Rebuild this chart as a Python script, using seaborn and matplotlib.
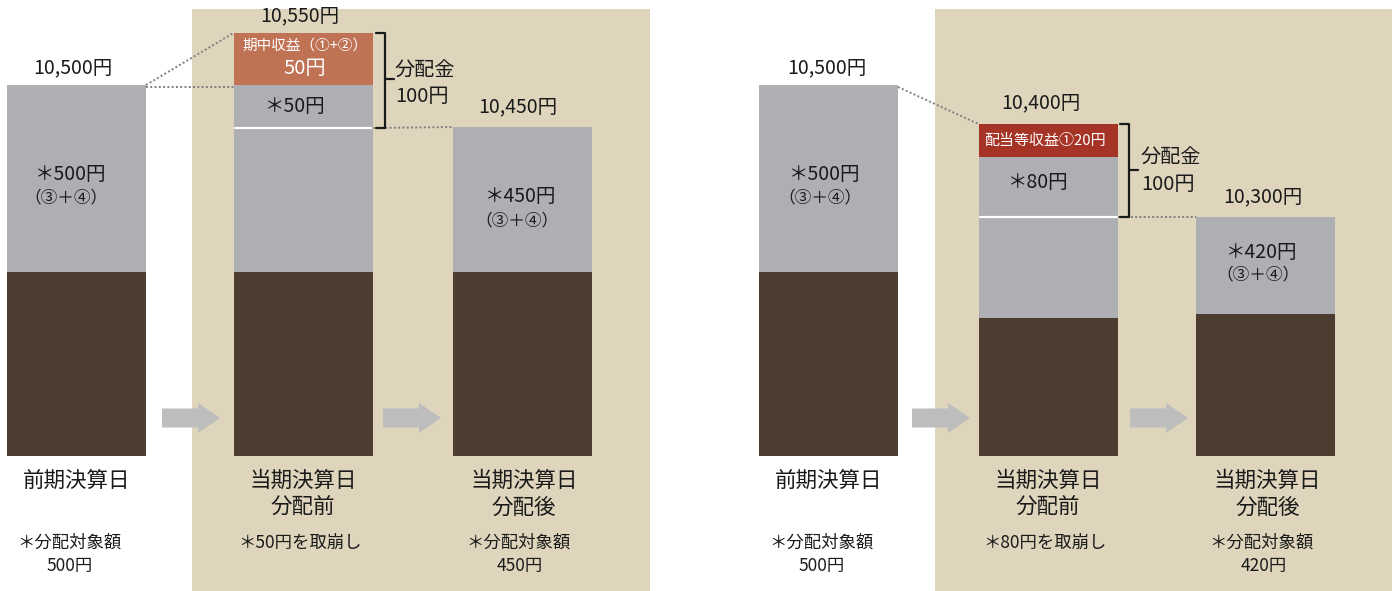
import matplotlib
matplotlib.use("Agg")
import matplotlib.pyplot as plt
from matplotlib.patches import Rectangle
import seaborn as sns

# --- data (schematic bar segment heights) ---
bar_labels = ["前期決算日", "当期決算日\n分配前", "当期決算日\n分配後"]

left_base = [184, 184, 184]        # brown part
left_kept = [187, 144, 145]        # gray part that stays
left_used = [0, 43, 0]             # gray part paid out
left_income = [0, 52, 0]           # income part paid out

right_base = [184, 138, 142]
right_kept = [187, 101, 97]
right_used = [0, 60, 0]
right_income = [0, 33, 0]

left_totals = ["10,500円", "10,550円", "10,450円"]
right_totals = ["10,500円", "10,400円", "10,300円"]
left_gray_text = ["＊500円", "＊50円", "＊450円"]
right_gray_text = ["＊500円", "＊80円", "＊420円"]
left_income_text = ["期中収益（①+②）", "50円"]
right_income_text = "配当等収益①20円"
dist_text = ["分配金", "100円"]
left_notes = [["＊分配対象額", "500円"], ["＊50円を取崩し"], ["＊分配対象額", "450円"]]
right_notes = [["＊分配対象額", "500円"], ["＊80円を取崩し"], ["＊分配対象額", "420円"]]

BROWN = "#4d3c30"
GRAY = "#aeafb3"
BEIGE = "#dfd5bd"
ORANGE = "#c07254"
RED = "#a53426"
ARROW = "#bdbdbd"
DOT = "#7f7f7f"
TXT = "#1a1a1a"

sns.set_theme(style="white")
plt.rcParams["font.family"] = ["Noto Sans CJK JP", "DejaVu Sans"]

W, H = 1399, 591
BASE = 456  # pixel row of bar bottoms


def Y(p):
    return BASE - p


fig = plt.figure(figsize=(W / 100, H / 100), dpi=100)
ax = fig.add_axes([0, 0, 1, 1])
ax.set_xlim(0, W)
ax.set_ylim(BASE - H, BASE)
ax.axis("off")

# beige background boxes
for x0, x1 in [(192, 650), (935, 1392)]:
    ax.add_patch(Rectangle((x0, Y(H)), x1 - x0, H - 9, color=BEIGE, lw=0, zorder=0))


def draw_panel(xs, base, kept, used, income, inc_color):
    width = 139
    b = list(base)
    k = [b[i] + kept[i] for i in range(3)]
    u = [k[i] + used[i] for i in range(3)]
    ax.bar(xs, base, width=width, bottom=0, color=BROWN, lw=0, zorder=2)
    ax.bar(xs, kept, width=width, bottom=b, color=GRAY, lw=0, zorder=2)
    ax.bar(xs, used, width=width, bottom=k, color=GRAY, lw=0, zorder=2)
    ax.bar(xs, income, width=width, bottom=u, color=inc_color, lw=0, zorder=2)
    tops = [u[i] + income[i] for i in range(3)]
    return k, u, tops, width


def arrow(x0, length=58):
    ax.arrow(x0, Y(418), length, 0, width=19, head_width=30, head_length=22,
             length_includes_head=True, color=ARROW, lw=0, zorder=2)


def bracket(x, top, bottom, mid):
    ax.plot([x - 9, x, x, x - 9], [top, top, bottom, bottom], color=TXT, lw=1.6, zorder=4)
    ax.plot([x, x + 9], [mid, mid], color=TXT, lw=1.6, zorder=4)


def t(x, p, s, size=14, color=TXT, ha="center"):
    ax.text(x, Y(p), s, fontsize=size, color=color, ha=ha, va="center")


# ---------------- left panel ----------------
lx = [76.5, 303, 522]
k, u, tops, w = draw_panel(lx, left_base, left_kept, left_used, left_income, ORANGE)
# white line between kept / used
ax.plot([lx[1] - w / 2 + 1, lx[1] + w / 2 - 1], [k[1], k[1]], color="white", lw=1.6, zorder=3)
# dotted guides
ax.plot([lx[0] + w / 2, lx[1] - w / 2], [tops[0], tops[1]], color=DOT, ls=(0, (1, 1.2)), lw=1.4, zorder=3)
ax.plot([lx[0] + w / 2, lx[1] - w / 2], [tops[0] - 2, tops[0] - 2], color=DOT, ls=(0, (1, 1.2)), lw=1.4, zorder=3)
ax.plot([lx[1] + w / 2, lx[2] - w / 2], [k[1], tops[2]], color=DOT, ls=(0, (1, 1.2)), lw=1.4, zorder=3)
bracket(385, tops[1], k[1], Y(79))
t(395, 70, dist_text[0], 14.5, ha="left")
t(395, 97, dist_text[1], 14.5, ha="left")

t(73, 68, left_totals[0])
t(300, 16, left_totals[1])
t(518, 107, left_totals[2])
t(71, 174, left_gray_text[0])
t(66, 198, "（③＋④）", 12)
t(295, 107, left_gray_text[1])
t(521, 196, left_gray_text[2])
t(517, 221, "（③＋④）", 12)
t(305, 46, left_income_text[0], 10.5, "white")
t(305, 69, left_income_text[1], 14.5, "white")

arrow(162)
arrow(383)

# ---------------- right panel ----------------
rx = [828.5, 1048, 1265.5]
k2, u2, tops2, w = draw_panel(rx, right_base, right_kept, right_used, right_income, RED)
ax.plot([rx[1] - w / 2 + 1, rx[1] + w / 2 - 1], [k2[1], k2[1]], color="white", lw=1.6, zorder=3)
ax.plot([rx[0] + w / 2, rx[1] - w / 2], [tops2[0] - 2, tops2[1]], color=DOT, ls=(0, (1, 1.2)), lw=1.4, zorder=3)
ax.plot([rx[1] + w / 2, rx[2] - w / 2], [k2[1], tops2[2]], color=DOT, ls=(0, (1, 1.2)), lw=1.4, zorder=3)
bracket(1129, tops2[1], k2[1], Y(170))
t(1141, 157, dist_text[0], 14.5, ha="left")
t(1141, 184, dist_text[1], 14.5, ha="left")

t(827, 68, right_totals[0])
t(1041, 103, right_totals[1])
t(1263, 197, right_totals[2])
t(825, 174, right_gray_text[0])
t(820, 198, "（③＋④）", 12)
t(1038, 182, right_gray_text[1])
t(1262, 252, right_gray_text[2])
t(1258, 275, "（③＋④）", 12)
t(1045, 141, right_income_text, 10.8, "white")

arrow(912)
arrow(1130)

# ---------------- category labels and notes ----------------
label_dx = [0, 0, 2]
note_dx = [-7, -3, -4]
for xs, notes in [(lx, left_notes), (rx, right_notes)]:
    for i, lab in enumerate(bar_labels):
        for j, line in enumerate(lab.split("\n")):
            t(xs[i] + label_dx[i], 481 + 27 * j, line, 15.5)
        for j, line in enumerate(notes[i]):
            t(xs[i] + note_dx[i] + (2 * j if i == 2 else 0), 543 + 23 * j, line, 12.5)

fig.savefig("out.png", dpi=100)
